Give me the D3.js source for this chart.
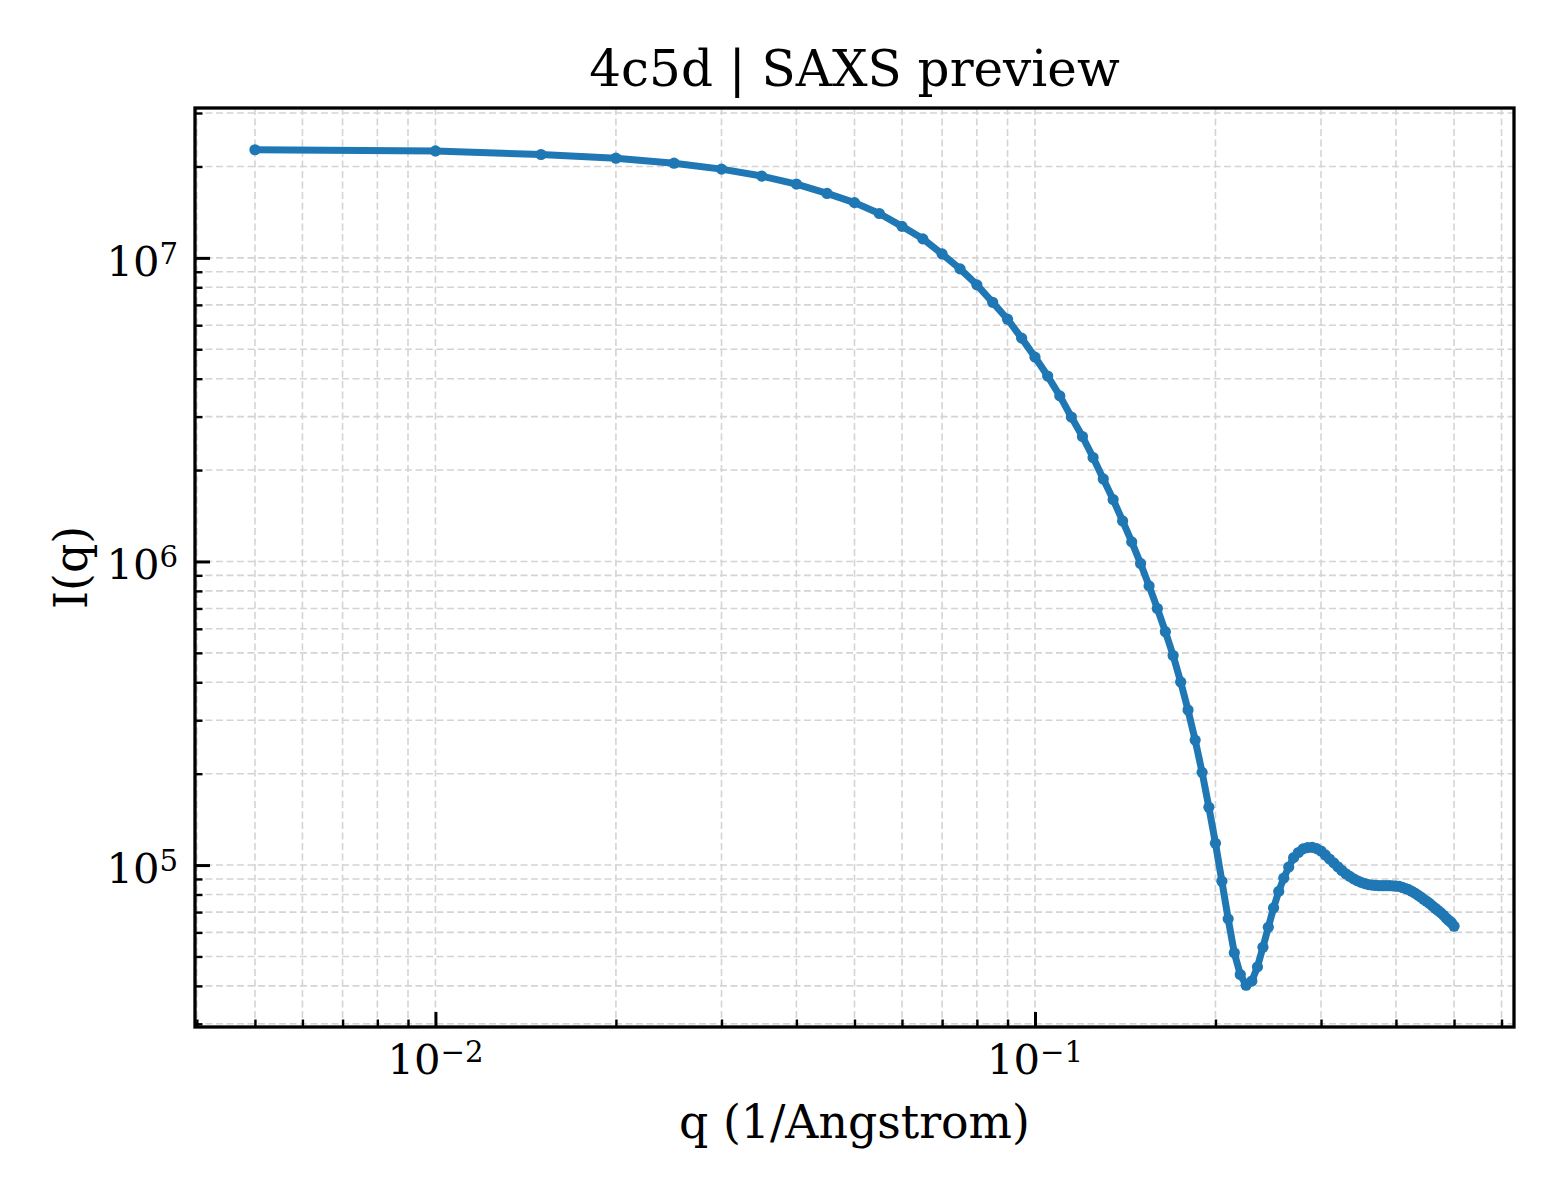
<!DOCTYPE html>
<html lang="en">
  <head>
    <meta charset="utf-8">
    <title>4c5d | SAXS preview</title>
    <style>
      body { margin: 0; background: #fff; }
      svg { display: block; }
      text { font-family: 'DejaVu Serif', serif; fill: #000; }
      .grid line { stroke: #d4d4d4; stroke-width: 1.6; stroke-dasharray: 7 3.5; }
    </style>
  </head>
  <body>
    <div id="viz"></div>
    <script src="https://d3js.org/d3.v7.min.js"></script>
    <script>
      // q (1/Angstrom) sampled every 0.005
      const qValues = [
        0.005, 0.010, 0.015, 0.020, 0.025, 0.030, 0.035, 0.040, 0.045, 0.050,
        0.055, 0.060, 0.065, 0.070, 0.075, 0.080, 0.085, 0.090, 0.095, 0.100,
        0.105, 0.110, 0.115, 0.120, 0.125, 0.130, 0.135, 0.140, 0.145, 0.150,
        0.155, 0.160, 0.165, 0.170, 0.175, 0.180, 0.185, 0.190, 0.195, 0.200,
        0.205, 0.210, 0.215, 0.220, 0.225, 0.230, 0.235, 0.240, 0.245, 0.250,
        0.255, 0.260, 0.265, 0.270, 0.275, 0.280, 0.285, 0.290, 0.295, 0.300,
        0.305, 0.310, 0.315, 0.320, 0.325, 0.330, 0.335, 0.340, 0.345, 0.350,
        0.355, 0.360, 0.365, 0.370, 0.375, 0.380, 0.385, 0.390, 0.395, 0.400,
        0.405, 0.410, 0.415, 0.420, 0.425, 0.430, 0.435, 0.440, 0.445, 0.450,
        0.455, 0.460, 0.465, 0.470, 0.475, 0.480, 0.485, 0.490, 0.495, 0.500
      ];
      // I(q)
      const intensity = [
        2.27e7, 2.25e7, 2.19e7, 2.13e7, 2.05e7, 1.96e7, 1.86e7, 1.75e7, 1.63e7, 1.52e7,
        1.40e7, 1.27e7, 1.155e7, 1.03e7, 9.2e6, 8.15e6, 7.14e6, 6.28e6, 5.44e6, 4.71e6,
        4.08e6, 3.51e6, 2.99e6, 2.58e6, 2.20e6, 1.87e6, 1.60e6, 1.36e6, 1.16e6, 9.85e5,
        8.31e5, 7.00e5, 5.87e5, 4.90e5, 4.01e5, 3.24e5, 2.58e5, 2.02e5, 1.55e5, 1.18e5,
        8.84e4, 6.65e4, 5.14e4, 4.36e4, 4.02e4, 4.15e4, 4.62e4, 5.36e4, 6.24e4, 7.22e4,
        8.19e4, 9.06e4, 9.85e4, 1.058e5, 1.100e5, 1.131e5, 1.142e5, 1.144e5, 1.133e5, 1.112e5,
        1.080e5, 1.046e5, 1.017e5, 9.87e4, 9.60e4, 9.36e4, 9.18e4, 9.01e4, 8.88e4, 8.77e4,
        8.69e4, 8.62e4, 8.59e4, 8.57e4, 8.55e4, 8.55e4, 8.55e4, 8.55e4, 8.54e4, 8.52e4,
        8.51e4, 8.44e4, 8.37e4, 8.30e4, 8.20e4, 8.09e4, 7.97e4, 7.85e4, 7.71e4, 7.60e4,
        7.48e4, 7.34e4, 7.21e4, 7.09e4, 6.97e4, 6.84e4, 6.69e4, 6.57e4, 6.46e4, 6.29e4
      ];
      const xMajorTicks = [0.01, 0.1];
      const xMajorExponents = ["\u22122", "\u22121"];
      const yMajorTicks = [1e5, 1e6, 1e7];
      const yMajorExponents = ["5", "6", "7"];

      const W = 1560, H = 1200;
      const margin = { top: 108, left: 195, right: 46, bottom: 173 };
      const width = W - margin.left - margin.right,
            height = H - margin.top - margin.bottom;

      const data = qValues.map((q, i) => ({ q: q, I: intensity[i] }));

      // matplotlib-style 5% padding in log space
      function padLog(ext) {
        const a = Math.log10(ext[0]), b = Math.log10(ext[1]), m = (b - a) * 0.05;
        return [Math.pow(10, a - m), Math.pow(10, b + m)];
      }

      const x = d3.scaleLog().domain(padLog(d3.extent(data, d => d.q))).range([0, width]);
      const y = d3.scaleLog().domain(padLog(d3.extent(data, d => d.I))).range([height, 0]);

      const xAll = x.ticks().filter(v => v >= x.domain()[0] && v <= x.domain()[1]);
      const yAll = y.ticks().filter(v => v >= y.domain()[0] && v <= y.domain()[1]);
      const isMajor = v => Math.abs(Math.log10(v) - Math.round(Math.log10(v))) < 1e-9;
      const xMinor = xAll.filter(v => !isMajor(v));
      const yMinor = yAll.filter(v => !isMajor(v));

      const svg = d3.select("#viz")
        .append("svg")
        .attr("width", W)
        .attr("height", H);

      const g = svg.append("g")
        .attr("transform", `translate(${margin.left},${margin.top})`);

      // grid, major + minor
      const grid = g.append("g").attr("class", "grid");
      grid.selectAll(".gx")
        .data(xAll)
        .join("line")
        .attr("x1", d => x(d)).attr("x2", d => x(d))
        .attr("y1", 0).attr("y2", height);
      grid.selectAll(".gy")
        .data(yAll)
        .join("line")
        .attr("class", "gy")
        .attr("y1", d => y(d)).attr("y2", d => y(d))
        .attr("x1", 0).attr("x2", width);

      // curve
      const line = d3.line().x(d => x(d.q)).y(d => y(d.I));
      g.append("path")
        .datum(data)
        .attr("fill", "none")
        .attr("stroke", "#1f77b4")
        .attr("stroke-width", 7)
        .attr("stroke-linejoin", "round")
        .attr("d", line);
      g.append("g")
        .selectAll("circle")
        .data(data)
        .join("circle")
        .attr("cx", d => x(d.q))
        .attr("cy", d => y(d.I))
        .attr("r", 5.6)
        .attr("fill", "#1f77b4");

      // ticks pointing inward (left + bottom only)
      const xAxisMajor = d3.axisBottom(x).tickValues(xMajorTicks).tickSize(-15).tickFormat("");
      const xAxisMinor = d3.axisBottom(x).tickValues(xMinor).tickSize(-7.5).tickFormat("");
      const yAxisMajor = d3.axisLeft(y).tickValues(yMajorTicks).tickSize(-15).tickFormat("");
      const yAxisMinor = d3.axisLeft(y).tickValues(yMinor).tickSize(-7.5).tickFormat("");

      function styleAxis(sel, w) {
        sel.select(".domain").remove();
        sel.selectAll(".tick line").attr("stroke", "#000").attr("stroke-width", w);
      }
      g.append("g").attr("transform", `translate(0,${height})`).call(xAxisMajor).call(s => styleAxis(s, 3));
      g.append("g").attr("transform", `translate(0,${height})`).call(xAxisMinor).call(s => styleAxis(s, 2.4));
      g.append("g").call(yAxisMajor).call(s => styleAxis(s, 3));
      g.append("g").call(yAxisMinor).call(s => styleAxis(s, 2.4));

      // frame
      g.append("rect")
        .attr("x", 0).attr("y", 0)
        .attr("width", width).attr("height", height)
        .attr("fill", "none")
        .attr("stroke", "#000")
        .attr("stroke-width", 3.3);

      // tick labels 10^n
      const xl = g.append("g")
        .selectAll("text")
        .data(xMajorTicks)
        .join("text")
        .attr("x", d => x(d))
        .attr("y", height + 47)
        .attr("text-anchor", "middle")
        .style("font-size", "41.7px");
      xl.append("tspan").text("10");
      xl.append("tspan").attr("dy", "-0.42em").style("font-size", "70%").text((d, i) => xMajorExponents[i]);

      const yl = g.append("g")
        .selectAll("text")
        .data(yMajorTicks)
        .join("text")
        .attr("x", -17)
        .attr("y", d => y(d) + 18)
        .attr("text-anchor", "end")
        .style("font-size", "41.7px");
      yl.append("tspan").text("10");
      yl.append("tspan").attr("dy", "-0.42em").style("font-size", "70%").text((d, i) => yMajorExponents[i]);

      // labels
      svg.append("text")
        .attr("x", margin.left + width / 2)
        .attr("y", 86)
        .attr("text-anchor", "middle")
        .style("font-size", "50px")
        .text("4c5d | SAXS preview");

      svg.append("text")
        .attr("x", margin.left + width / 2)
        .attr("y", 1138)
        .attr("text-anchor", "middle")
        .style("font-size", "45.8px")
        .text("q (1/Angstrom)");

      svg.append("text")
        .attr("transform", `translate(87,${margin.top + height / 2}) rotate(-90)`)
        .attr("text-anchor", "middle")
        .style("font-size", "45.8px")
        .text("I(q)");
    </script>
  </body>
</html>
